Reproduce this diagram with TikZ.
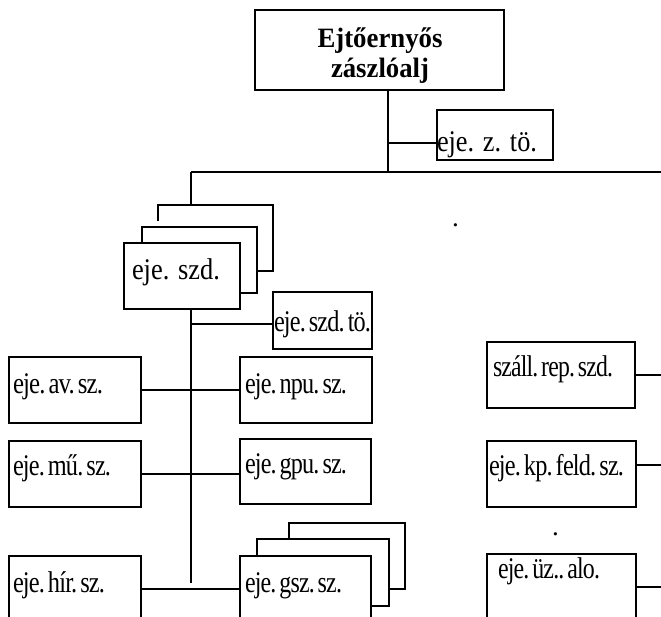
\documentclass[tikz,border=0pt]{standalone}
\usepackage{fontspec}
\setmainfont{Liberation Serif}
\newfontfamily\tightfont[WordSpace=0.25,LetterSpace=-3.5]{Liberation Serif}
\usepackage{graphicx}
% squeeze a label horizontally to a given width (in pt), keeping its height
\newcommand\squeezeto[2]{\resizebox{#1pt}{\height}{#2}}
\begin{document}
\begin{tikzpicture}[x=1pt,y=-1pt,line width=1.2pt,
  box/.style={draw,inner sep=0pt,outer sep=0pt,anchor=north west},
  lbl/.style={anchor=base west,inner sep=0pt,outer sep=0pt,font=\fontsize{30}{32}\selectfont},
  tlbl/.style={lbl,font=\tightfont\fontsize{30}{32}\selectfont},
  ttl/.style={anchor=base,inner sep=0pt,outer sep=0pt,font=\bfseries\fontsize{28}{30}\selectfont}]
\useasboundingbox (0,0) rectangle (661,617);
\clip (0,0) rectangle (661,617);

% ---- battalion head ----
\node[box,minimum width=249pt,minimum height=80pt] (zaj) at (255,10) {};
\node[ttl] (zajA) at (380,48) {\squeezeto{125}{Ejtőernyős}};
\node[ttl] (zajB) at (380,78) {\squeezeto{98}{zászlóalj}};
\node[box,minimum width=116pt,minimum height=50pt] (zto) at (437,110) {};
\node[lbl] (ztoT) at (437,152) {\squeezeto{100}{eje. z. tö.}};

\coordinate (hj) at (388,172);
\coordinate (hl) at (191,172);
\coordinate (hr) at (661,172);
\coordinate (zt) at (388,143);
\draw (zaj.south -| hj) -- (hj);
\draw (zt) -- (zt -| zto.west);
\draw (hl) -- (hr);

% ---- parachute company (stacked) ----
\coordinate (sb) at (191,205);
\draw (hl) -- (sb);
\draw (158,221) -- (158,205) -- (273,205) -- (273,271) -- (257,271);
\draw (142,243) -- (142,227) -- (257,227) -- (257,293) -- (240,293);
\node[box,minimum width=116pt,minimum height=66pt] (szd) at (124,243) {};
\node[lbl] (szdT) at (132,280) {\squeezeto{88}{eje. szd.}};

\node[box,minimum width=99pt,minimum height=57pt] (sto) at (273,292) {};
\node[tlbl] (stoT) at (274,331) {\squeezeto{97}{eje. szd. tö.}};

\coordinate (vend) at (191,583);
\coordinate (sj) at (191,324);
\draw (szd.south -| hl) -- (vend);
\draw (sj) -- (sj -| sto.west);

% ---- platoons ----
\node[box,minimum width=132pt,minimum height=66pt] (av) at (9,357) {};
\node[tlbl] (avT) at (13,393) {\squeezeto{90}{eje. av. sz.}};
\node[box,minimum width=132pt,minimum height=66pt] (npu) at (240,357) {};
\node[tlbl] (npuT) at (245,393) {\squeezeto{102}{eje. npu. sz.}};
\node[box,minimum width=132pt,minimum height=66pt] (mu) at (9,441) {};
\node[tlbl] (muT) at (13,475) {\squeezeto{98}{eje. mű. sz.}};
\node[box,minimum width=131pt,minimum height=65pt] (gpu) at (240,439) {};
\node[tlbl] (gpuT) at (245,473) {\squeezeto{102}{eje. gpu. sz.}};

\draw (389,589) -- (405,589) -- (405,523) -- (289,523) -- (289,539);
\draw (371,606) -- (389,606) -- (389,539) -- (257,539) -- (257,556);
\node[box,minimum width=132pt,minimum height=66pt] (hir) at (9,556) {};
\node[tlbl] (hirT) at (13,592) {\squeezeto{92}{eje. hír. sz.}};
\node[box,minimum width=131pt,minimum height=66pt] (gsz) at (240,556) {};
\node[tlbl] (gszT) at (245,592) {\squeezeto{97}{eje. gsz. sz.}};

\draw (av.east) -- (npu.west);
\draw (mu.east) -- (mu.east -| gpu.west);
\draw (hir.east) -- (gsz.west);

% ---- right-hand units ----
\node[lbl] (dotA) at (452,227) {\fontsize{27}{30}\selectfont .};
\node[lbl] (dotB) at (552,535) {\fontsize{27}{30}\selectfont .};
\node[box,minimum width=148pt,minimum height=66pt] (szall) at (487,342) {};
\node[tlbl] (szallT) at (493,376) {\squeezeto{120}{száll. rep. szd.}};
\node[box,minimum width=149pt,minimum height=66pt] (kp) at (487,441) {};
\node[tlbl] (kpT) at (489,475) {\squeezeto{135}{eje. kp. feld. sz.}};
\node[box,minimum width=149pt,minimum height=66pt] (uz) at (487,554) {};
\node[tlbl] (uzT) at (498,578) {\squeezeto{102}{eje. üz.. alo.}};

\coordinate (kpl) at (661,465);
\draw (szall.east) -- (szall.east -| hr);
\draw (kp.east |- kpl) -- (kpl);
\draw (uz.east) -- (uz.east -| hr);
\end{tikzpicture}
\end{document}
